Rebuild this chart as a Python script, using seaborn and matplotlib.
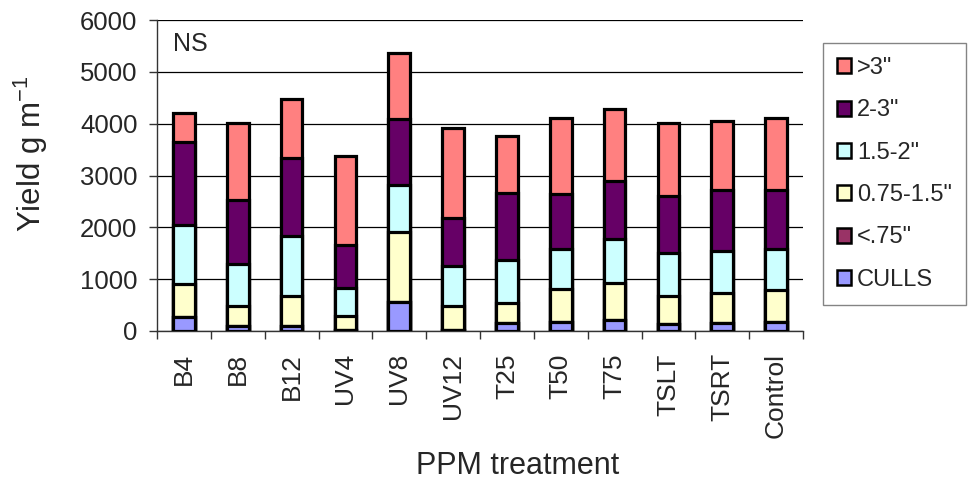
import numpy as np
import pandas as pd
import matplotlib
matplotlib.use("Agg")
import matplotlib.pyplot as plt
from matplotlib.patches import Patch
import seaborn as sns

treatments = ["B4", "B8", "B12", "UV4", "UV8", "UV12", "T25", "T50", "T75", "TSLT", "TSRT", "Control"]
culls    = [270, 97, 97, 10, 555, 26, 148, 168, 213, 142, 161, 174]
lt_075   = [0, 0, 0, 0, 0, 0, 0, 0, 0, 0, 0, 0]
s075_15  = [646, 380, 574, 274, 1348, 451, 400, 638, 710, 535, 581, 613]
s15_2    = [1129, 807, 1161, 555, 916, 781, 820, 768, 845, 820, 806, 800]
s2_3     = [1600, 1245, 1503, 819, 1271, 916, 1303, 1071, 1135, 1109, 1168, 1129]
gt3      = [561, 1477, 1142, 1710, 1278, 1742, 1084, 1458, 1387, 1413, 1329, 1387]

series_names = ["CULLS", '<.75"', '0.75-1.5"', '1.5-2"', '2-3"', '>3"']
series_vals = [culls, lt_075, s075_15, s15_2, s2_3, gt3]
colors = ["#9999FF", "#993366", "#FFFFCC", "#CCFFFF", "#660066", "#FF8080"]

sns.set_style("white")
plt.rcParams["font.family"] = ["Liberation Sans", "DejaVu Sans"]
plt.rcParams["mathtext.fontset"] = "custom"
plt.rcParams["mathtext.rm"] = "Liberation Sans"
plt.rcParams["mathtext.it"] = "Liberation Sans"
plt.rcParams["mathtext.default"] = "regular"

fig = plt.figure(figsize=(9.74, 4.83), dpi=100)
ax = fig.add_axes([157/974, 1-331/483, (803-157)/974, (331-20)/483])

cum = np.cumsum(np.array(series_vals, dtype=float), axis=0)
df = pd.DataFrame({"treatment": treatments})
for i in range(len(series_names) - 1, -1, -1):
    df["v"] = cum[i]
    sns.barplot(data=df, x="treatment", y="v", color=colors[i], saturation=1,
                width=0.4, edgecolor="black", linewidth=2.3, ax=ax, zorder=3)

ax.set_ylim(0, 6000)
ax.set_xlim(-0.5, len(treatments) - 0.5)
ax.set_yticks(np.arange(0, 6001, 1000))
ax.yaxis.grid(True, color="black", linewidth=0.9, zorder=0)
ax.set_axisbelow(True)
for s in ["top", "right"]:
    ax.spines[s].set_visible(False)
for s in ["left", "bottom"]:
    ax.spines[s].set_color("#333333")
    ax.spines[s].set_linewidth(1.0)

ax.tick_params(axis="y", which="major", direction="out", length=6, width=1,
               color="#333333", labelsize=18.5, pad=8, left=True)
ax.set_xticks(np.arange(len(treatments)))
ax.set_xticklabels(treatments, rotation=90, fontsize=19)
ax.tick_params(axis="x", which="major", length=0, pad=16)
ax.set_xticks(np.arange(-0.5, len(treatments)), minor=True)
ax.tick_params(axis="x", which="minor", direction="out", length=6, width=1,
               color="#333333", bottom=True)

ax.set_xlabel("PPM treatment", fontsize=22)
ax.xaxis.set_label_coords(0.559, -0.385)
ax.set_ylabel("Yield g m$^{-1}$", fontsize=22.5)
ax.yaxis.set_label_coords(-0.165, 0.57)

ax.text(-0.21, 5530, "NS", fontsize=18, ha="left", va="center")

handles = [Patch(facecolor=colors[i], edgecolor="black", linewidth=1.8, label=series_names[i])
           for i in range(len(series_names) - 1, -1, -1)]
leg = fig.legend(handles=handles, loc="upper left", bbox_to_anchor=(823/974, 1-43/483),
                 fontsize=17, frameon=True, fancybox=False, borderpad=0.6,
                 labelspacing=0.86, handlelength=0.6, handleheight=0.6,
                 handletextpad=0.25, borderaxespad=0)
leg.get_frame().set_edgecolor("#666666")
leg.get_frame().set_linewidth(1.0)

fig.savefig("out.png", dpi=100)
